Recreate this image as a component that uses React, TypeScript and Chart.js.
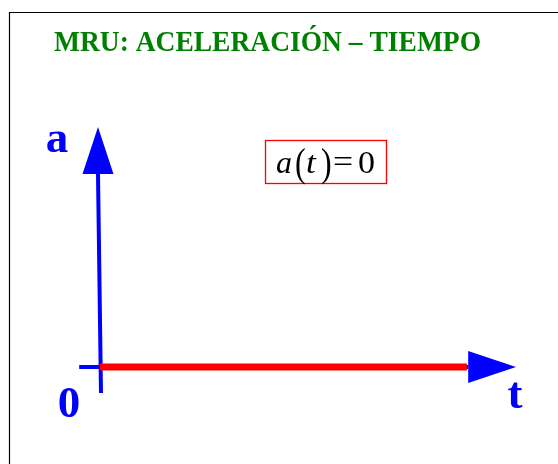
import React, { useEffect, useRef } from "react";
import { Chart, registerables } from "chart.js";

Chart.register(...registerables);

// ---- texts ----
const TITLE = "MRU: ACELERACIÓN – TIEMPO";
const T_LABEL = "t";
const A_LABEL = "a";
const ORIGIN_LABEL = "0";

// ---- scale ranges (axis arrow tips) ----
const T_MIN = 0;
const T_MAX = 10;
const A_MIN = 0;
const A_MAX = 10;

// ---- a(t) = 0 series ----
const tValues = [0, 8.82];
const aValues = [0, 0];

// ---- axis lines (start / arrow base) ----
const tAxisT = [-0.5, 8.85];
const tAxisA = [0, 0];
const aAxisT = [0.024, -0.048];
const aAxisA = [-1.08, 8.04];

const BLUE = "#0000ff";
const RED = "#ff0000";
const GREEN = "#008000";
const SERIF = '"Liberation Serif", "Times New Roman", serif';

function drawScaled(ctx: CanvasRenderingContext2D, text: string, font: string, x: number, y: number, sx: number, align: CanvasTextAlign = "left") {
  ctx.save();
  ctx.font = font;
  ctx.textAlign = align;
  ctx.translate(x, y);
  ctx.scale(sx, 1);
  ctx.fillText(text, 0, 0);
  ctx.restore();
}

const overlay = {
  id: "overlay",
  afterDatasetsDraw(chart: any) {
    const ctx = chart.ctx as CanvasRenderingContext2D;
    const xs = chart.scales.x;
    const ys = chart.scales.y;
    ctx.save();

    // frame
    ctx.strokeStyle = "#000";
    ctx.lineWidth = 1.2;
    ctx.beginPath();
    ctx.moveTo(9.5, chart.height + 10);
    ctx.lineTo(9.5, 12.5);
    ctx.lineTo(chart.width + 10, 12.5);
    ctx.stroke();

    // title
    ctx.fillStyle = GREEN;
    ctx.textBaseline = "alphabetic";
    drawScaled(ctx, TITLE, `bold 28.5px ${SERIF}`, 267.5, 51, 0.965, "center");

    // arrowheads
    ctx.fillStyle = BLUE;
    const tBase = xs.getPixelForValue(tAxisT[1]);
    const tTip = xs.getPixelForValue(T_MAX);
    const y0 = ys.getPixelForValue(0);
    ctx.beginPath();
    ctx.moveTo(tBase, y0 - 16);
    ctx.lineTo(tTip, y0);
    ctx.lineTo(tBase, y0 + 16);
    ctx.closePath();
    ctx.fill();
    const aBase = ys.getPixelForValue(aAxisA[1]);
    const aTip = ys.getPixelForValue(A_MAX);
    const xTop = xs.getPixelForValue(aAxisT[1]);
    ctx.beginPath();
    ctx.moveTo(xTop - 15.5, aBase);
    ctx.lineTo(xTop, aTip);
    ctx.lineTo(xTop + 15.5, aBase);
    ctx.closePath();
    ctx.fill();

    // axis labels
    ctx.font = `bold 45px ${SERIF}`;
    ctx.textAlign = "center";
    ctx.fillText(A_LABEL, 57, 152);
    ctx.fillText(ORIGIN_LABEL, 69, 417);
    ctx.fillText(T_LABEL, 515, 408);

    // formula box
    ctx.strokeStyle = RED;
    ctx.lineWidth = 1.3;
    ctx.strokeRect(265.5, 140.5, 121, 43);
    ctx.fillStyle = "#000";
    const base = 173;
    drawScaled(ctx, "a", `italic 32px ${SERIF}`, 276, base, 1.0);
    drawScaled(ctx, "(", `40px ${SERIF}`, 295, base + 3, 0.8);
    drawScaled(ctx, "t", `italic 32px ${SERIF}`, 306, base, 1.1);
    drawScaled(ctx, ")", `40px ${SERIF}`, 321, base + 3, 0.8);
    drawScaled(ctx, "=", `31px ${SERIF}`, 333, base - 1, 1.15);
    drawScaled(ctx, "0", `31px ${SERIF}`, 358, base, 1.1);

    ctx.restore();
  },
};

export default function App() {
  const ref = useRef<HTMLCanvasElement | null>(null);
  useEffect(() => {
    if (!ref.current) return;
    const toPts = (xsArr: number[], ysArr: number[]) => xsArr.map((x, i) => ({ x, y: ysArr[i] }));
    const chart = new Chart(ref.current, {
      type: "line",
      data: {
        datasets: [
          {
            label: "a(t)",
            data: toPts(tValues, aValues),
            borderColor: RED,
            borderWidth: 7,
            pointRadius: 0,
            order: 0,
          },
          {
            label: "t axis",
            data: toPts(tAxisT, tAxisA),
            borderColor: BLUE,
            borderWidth: 4,
            pointRadius: 0,
            order: 1,
          },
          {
            label: "a axis",
            data: toPts(aAxisT, aAxisA),
            borderColor: BLUE,
            borderWidth: 4,
            pointRadius: 0,
            order: 1,
          },
        ],
      },
      options: {
        animation: false,
        responsive: false,
        layout: { padding: { left: 100, right: 42, top: 127, bottom: 97 } },
        scales: {
          x: { type: "linear", min: T_MIN, max: T_MAX, display: false },
          y: { type: "linear", min: A_MIN, max: A_MAX, display: false },
        },
        plugins: { legend: { display: false }, tooltip: { enabled: false }, title: { display: false } },
        elements: { line: { tension: 0 } },
        clip: false as any,
      },
      plugins: [overlay],
    });
    return () => chart.destroy();
  }, []);
  return (
    <div style={{ position: "absolute", left: 0, top: 0, width: 558, height: 464, background: "#fff" }}>
      <canvas ref={ref} width={558} height={464} />
    </div>
  );
}
